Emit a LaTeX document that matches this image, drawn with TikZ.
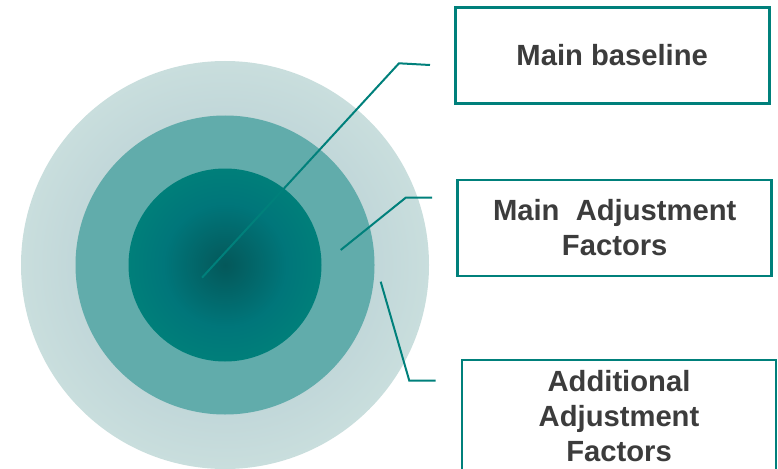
\documentclass[tikz,border=0pt]{standalone}
\usepackage{fontspec}
\setmainfont{Liberation Sans}
\definecolor{teal1}{HTML}{00807B}
\definecolor{txt}{HTML}{3C3C3C}
\definecolor{ringout}{HTML}{C9DEDD}
\definecolor{ringoutin}{HTML}{C1D7D9}
\definecolor{ringmid}{HTML}{61ACAB}
\definecolor{coredark}{HTML}{04585A}
\definecolor{coremid}{HTML}{00767A}
\definecolor{coreedge}{HTML}{007F7A}
\pgfdeclareradialshading{coreshade}{\pgfpoint{0bp}{0bp}}{color(0bp)=(coredark); color(16bp)=(coremid); color(25bp)=(coreedge); color(50bp)=(coreedge)}
\pgfdeclareradialshading{outshade}{\pgfpoint{0bp}{0bp}}{color(0bp)=(ringoutin); color(18bp)=(ringoutin); color(25bp)=(ringout); color(50bp)=(ringout)}
\tikzset{
  ring/.style={circle, inner sep=0pt, draw=none},
  labelbox/.style={draw=teal1, line width=2.6pt, fill=white, inner sep=0pt,
    minimum width=314pt, align=center, text=txt,
    font=\fontsize{29.2}{35}\selectfont\bfseries},
  leader/.style={draw=teal1, line width=2pt}
}
\begin{document}
\begin{tikzpicture}[x=1pt,y=-1pt]
\useasboundingbox (0,0) rectangle (778,468);
\clip (0,0) rectangle (778,468);
\node[ring, minimum size=408pt, shading=outshade] (outer) at (225,265) {};
\node[ring, minimum size=299pt, fill=ringmid] (middle) at (225,265) {};
\node[ring, minimum size=193pt, shading=coreshade] (core) at (225,265) {};

\node[labelbox, minimum height=96pt] (b1) at (612.2,55.3) {Main baseline};
\node[labelbox, minimum height=96pt] (b2) at (614.7,228) {Main\ \ Adjustment\\Factors};
\node[labelbox, minimum height=112pt] (b3) at (619,416) {Additional\\Adjustment\\Factors};

\coordinate (s1) at (202,277.7);
\coordinate (k1) at (399,63.3);
\coordinate (e1) at (430,65);
\coordinate (s2) at (340.7,250);
\coordinate (k2) at (405.7,197.7);
\coordinate (e2) at (432,197.7);
\coordinate (s3) at (380.7,281.7);
\coordinate (k3) at (409.3,380.7);
\coordinate (e3) at (435.7,380.7);

\draw[leader] (s1) -- (k1) -- (e1);
\draw[leader] (s2) -- (k2) -- (e2);
\draw[leader] (s3) -- (k3) -- (e3);
\end{tikzpicture}
\end{document}
